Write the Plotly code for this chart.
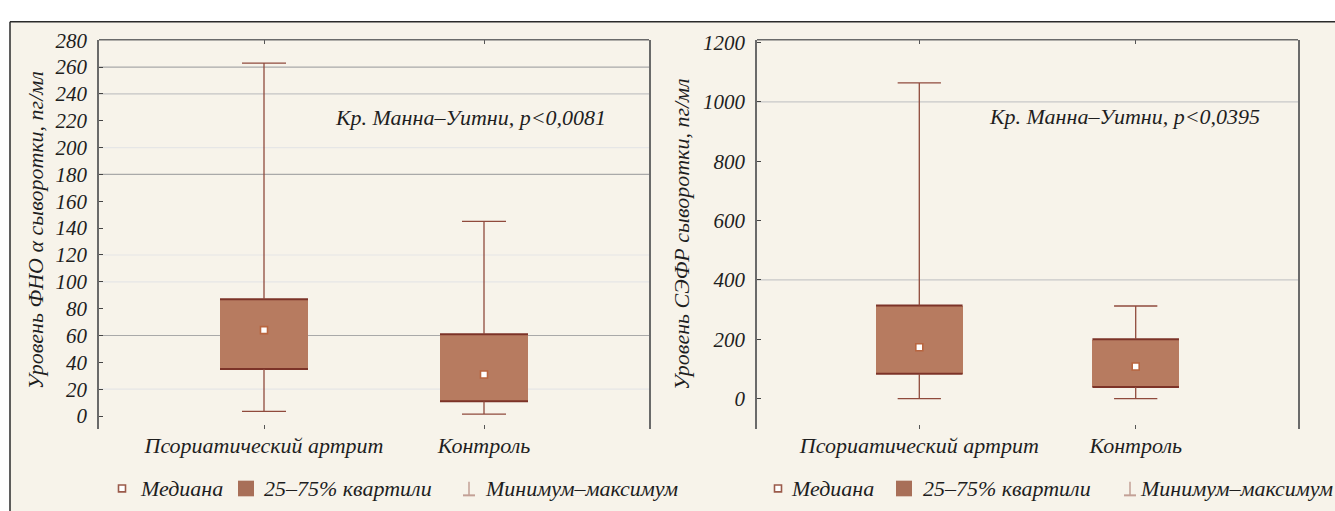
import plotly.graph_objects as go

# ---- data -------------------------------------------------------------
categories = ["Псориатический артрит", "Контроль"]

# TNF-alpha, pg/ml
tnf_min = [3.5, 1.5]
tnf_q1 = [35, 11]
tnf_median = [64, 31]
tnf_q3 = [87, 61]
tnf_max = [263, 145]

# VEGF, pg/ml
vegf_min = [0, 0]
vegf_q1 = [84, 39]
vegf_median = [173, 108]
vegf_q3 = [314, 200]
vegf_max = [1064, 312]

tnf_ticks = list(range(0, 281, 20))
vegf_ticks = list(range(0, 1201, 200))

tnf_label = "Уровень ФНО α сыворотки, пг/мл"
vegf_label = "Уровень СЭФР сыворотки, пг/мл"
tnf_test = "Кр. Манна–Уитни, p<0,0081"
vegf_test = "Кр. Манна–Уитни, p<0,0395"
legend_items = ["Медиана", "25–75% квартили", "Минимум–максимум"]

# ---- style ------------------------------------------------------------
W, H = 1335, 511
FONT = "Liberation Serif"
BOX_FILL = "#b77b60"
BOX_EDGE = "#7c3328"
WHISKER = "#8f4a3c"
MEDIAN_EDGE = "#b8653f"
BG = "#f7f3ea"
AXIS = "#6a6a6a"
BOX_W = 0.4
CAP_W = 0.2

fig = go.Figure()


def px_x(v):
    return v / W


def px_y(v):
    return 1 - v / H


def add_panel(xa, ya, lo, q1, med, q3, hi):
    xs = list(range(len(categories)))
    # interquartile boxes
    fig.add_trace(go.Bar(
        x=xs, y=[b - a for a, b in zip(q1, q3)], base=q1, width=BOX_W,
        marker=dict(color=BOX_FILL, line=dict(width=0)),
        xaxis=xa, yaxis=ya, showlegend=False, hoverinfo="skip"))
    # darker top and bottom edges of the boxes
    ex, ey = [], []
    for x, a, b in zip(xs, q1, q3):
        for v in (a, b):
            ex += [x - BOX_W / 2, x + BOX_W / 2, None]
            ey += [v, v, None]
    fig.add_trace(go.Scatter(x=ex, y=ey, mode="lines",
                             line=dict(color=BOX_EDGE, width=2),
                             xaxis=xa, yaxis=ya, showlegend=False, hoverinfo="skip"))
    # whiskers and caps
    wx, wy = [], []
    for x, l, a, b, h in zip(xs, lo, q1, q3, hi):
        wx += [x, x, None, x, x, None]
        wy += [b, h, None, l, a, None]
        wx += [x - CAP_W / 2, x + CAP_W / 2, None, x - CAP_W / 2, x + CAP_W / 2, None]
        wy += [h, h, None, l, l, None]
    fig.add_trace(go.Scatter(x=wx, y=wy, mode="lines",
                             line=dict(color=WHISKER, width=1.3),
                             xaxis=xa, yaxis=ya, showlegend=False, hoverinfo="skip"))
    # medians
    fig.add_trace(go.Scatter(x=xs, y=med, mode="markers",
                             marker=dict(symbol="square", size=7, color="white",
                                         line=dict(color=MEDIAN_EDGE, width=1.6)),
                             xaxis=xa, yaxis=ya, showlegend=False, hoverinfo="skip"))


add_panel("x", "y", tnf_min, tnf_q1, tnf_median, tnf_q3, tnf_max)
add_panel("x2", "y2", vegf_min, vegf_q1, vegf_median, vegf_q3, vegf_max)

tick_font = dict(family=FONT, size=21, color="#1e1e1e", style="italic")
cat_font = dict(family=FONT, size=22, color="#1e1e1e", style="italic")
ydom = [px_y(427), px_y(29.3)]

xcommon = dict(tickmode="array", tickvals=[0, 1], ticktext=categories,
               range=[-0.75, 1.75], showgrid=False, zeroline=False,
               showline=False, ticks="inside", ticklen=4, tickcolor="#555",
               mirror="ticks", tickfont=cat_font, ticklabelstandoff=1)
ycommon = dict(showline=True, mirror=True, linecolor=AXIS, linewidth=1.5,
               ticks="inside", ticklen=4, tickcolor="#444", zeroline=False,
               showgrid=False, tickfont=tick_font, tickmode="array",
               ticklabelstandoff=6)

fig.update_layout(
    width=W, height=H, margin=dict(l=0, r=0, t=0, b=0),
    paper_bgcolor="white", plot_bgcolor="white", bargap=0,
    xaxis=dict(domain=[px_x(99), px_x(649)], anchor="y", **xcommon),
    xaxis2=dict(domain=[px_x(757), px_x(1298)], anchor="y2", **xcommon),
    yaxis=dict(domain=ydom, anchor="x", range=[-9.5, 280.4],
               tickvals=tnf_ticks, **ycommon),
    yaxis2=dict(domain=ydom, anchor="x2", range=[-102, 1210],
                tickvals=vegf_ticks, **ycommon),
)

shapes = []
# page background with frame on top and left
shapes.append(dict(type="rect", xref="paper", yref="paper", x0=px_x(10), x1=1.01,
                   y0=-0.01, y1=px_y(11), fillcolor=BG, line=dict(width=0), layer="below"))
shapes.append(dict(type="line", xref="paper", yref="paper", x0=px_x(10), x1=1,
                   y0=px_y(11), y1=px_y(11), line=dict(color="#2a2a2a", width=1.5)))
shapes.append(dict(type="line", xref="paper", yref="paper", x0=px_x(10), x1=px_x(10),
                   y0=0, y1=px_y(11), line=dict(color="#2a2a2a", width=1.5)))

# horizontal grid lines
for ya, xa, vals, col in [("y", "x", [260, 180, 60], "#a9a9a9"),
                          ("y", "x", [240], "#c4c4c4"),
                          ("y", "x", [200, 120, 100, 20], "#e6e6e6"),
                          ("y2", "x2", [1000, 400], "#c8c8c8")]:
    for v in vals:
        shapes.append(dict(type="line", xref=f"{xa} domain", yref=ya, x0=0, x1=1,
                           y0=v, y1=v, line=dict(color=col, width=1.2), layer="below"))
# top frame of each plot
for xa, ya in [("x", "y"), ("x2", "y2")]:
    shapes.append(dict(type="line", xref=f"{xa} domain", yref=f"{ya} domain",
                       x0=0, x1=1, y0=1, y1=1, line=dict(color=AXIS, width=1.5)))

ann_font = dict(family=FONT, size=22, color="#1e1e1e", style="italic")
annotations = [
    dict(text=tnf_test, x=px_x(470), y=px_y(109), xref="paper", yref="paper",
         showarrow=False, font=ann_font, xanchor="center", yanchor="middle"),
    dict(text=vegf_test, x=px_x(1124), y=px_y(108), xref="paper", yref="paper",
         showarrow=False, font=ann_font, xanchor="center", yanchor="middle"),
    dict(text=tnf_label, x=px_x(35), y=px_y(224), xref="paper", yref="paper",
         showarrow=False, font=ann_font, textangle=-90,
         xanchor="center", yanchor="middle"),
    dict(text=vegf_label, x=px_x(681), y=px_y(228), xref="paper", yref="paper",
         showarrow=False, font=ann_font, textangle=-90,
         xanchor="center", yanchor="middle"),
]

# legends under each panel
LEG_Y = 488
for mx, sx, wx in [((122, 138), (246, 262), (469, 483)),
                   ((778, 789), (904, 921), (1130, 1138))]:
    # median symbol
    shapes.append(dict(type="rect", xref="paper", yref="paper",
                       x0=px_x(mx[0] - 3.5), x1=px_x(mx[0] + 3.5),
                       y0=px_y(LEG_Y + 3.5), y1=px_y(LEG_Y - 3.5),
                       fillcolor="white", line=dict(color="#9a5a4a", width=1.6)))
    # quartile symbol
    shapes.append(dict(type="rect", xref="paper", yref="paper",
                       x0=px_x(sx[0] - 8), x1=px_x(sx[0] + 8),
                       y0=px_y(LEG_Y + 8), y1=px_y(LEG_Y - 8),
                       fillcolor="#a86f58", line=dict(width=0)))
    # min-max symbol
    shapes.append(dict(type="line", xref="paper", yref="paper",
                       x0=px_x(wx[0]), x1=px_x(wx[0]),
                       y0=px_y(LEG_Y + 7), y1=px_y(LEG_Y - 7),
                       line=dict(color="#c3a096", width=1.5)))
    shapes.append(dict(type="line", xref="paper", yref="paper",
                       x0=px_x(wx[0] - 6), x1=px_x(wx[0] + 6),
                       y0=px_y(LEG_Y + 7), y1=px_y(LEG_Y + 7),
                       line=dict(color="#c3a096", width=2)))
    for label, x0 in zip(legend_items, [mx[1], sx[1], wx[1]]):
        annotations.append(dict(text=label, x=px_x(x0), y=px_y(LEG_Y),
                                xref="paper", yref="paper", showarrow=False,
                                font=ann_font, xanchor="left", yanchor="middle"))

fig.update_layout(shapes=shapes, annotations=annotations)
fig.write_html("out.html")
